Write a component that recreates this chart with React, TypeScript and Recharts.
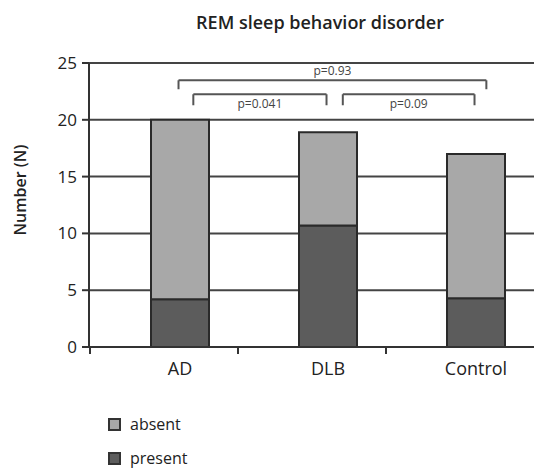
import React from 'react';
import { BarChart, Bar, XAxis, YAxis, CartesianGrid, ReferenceLine, Legend } from 'recharts';

const categories = ['AD', 'DLB', 'Control'];
const presentValues = [4.2, 10.7, 4.3];
const absentValues = [15.8, 8.2, 12.7];
const yTicks = [0, 5, 10, 15, 20, 25];
const seriesNames = ['absent', 'present'];
const seriesColors = ['#a8a8a8', '#5c5c5c'];

// significance brackets, x in band units (0..3), y in data units
const bracketLabels = ['p=0.93', 'p=0.041', 'p=0.09'];
const bracketFrom = [0.49, 0.59, 1.6];
const bracketTo = [2.57, 1.49, 2.49];
const bracketTop = [23.48, 22.25, 22.25];
const bracketLeg = [22.69, 21.28, 21.28];
const bracketLabelPos = ['top', 'bottom', 'bottom'];

const data = categories.map((c, i) => ({
  name: c,
  slot: i + 0.5,
  present: presentValues[i],
  absent: absentValues[i],
}));

const FONT = '"Open Sans", sans-serif';
const DARK = '#333';

const CategoryTick = (props: any) => {
  const { x, y, payload } = props;
  return (
    <g>
      <line x1={x - 90} x2={x - 90} y1={y} y2={y + 7} stroke={DARK} strokeWidth={2} />
      <text x={x} y={y + 28} textAnchor="middle" fontSize={18} fill="#222" fontFamily={FONT}>
        {payload.value}
      </text>
    </g>
  );
};

const LegendContent = () => (
  <div style={{ fontFamily: FONT, fontSize: 16, color: '#222', lineHeight: '16px' }}>
    {seriesNames.map((n, i) => (
      <div key={n} style={{ display: 'flex', alignItems: 'center', height: 16, marginBottom: i === 0 ? 18 : 0 }}>
        <span
          style={{
            display: 'inline-block',
            width: 13,
            height: 13,
            boxSizing: 'border-box',
            border: '2px solid #333',
            background: seriesColors[i],
            marginRight: 9,
          }}
        />
        <span>{n}</span>
      </div>
    ))}
  </div>
);

const YLabel = () => (
  <text
    transform="translate(20,190) rotate(-90)"
    textAnchor="middle"
    dominantBaseline="central"
    fontSize={16}
    fontWeight={600}
    fill="#222"
    fontFamily={FONT}
  >
    Number (N)
  </text>
);

export default function App() {
  return (
    <div
      style={{
        position: 'absolute',
        left: 0,
        top: 0,
        width: 534,
        height: 470,
        overflow: 'hidden',
        background: '#fff',
        fontFamily: FONT,
      }}
    >
      <div
        style={{
          position: 'absolute',
          left: 320,
          top: 13,
          transform: 'translateX(-50%)',
          whiteSpace: 'nowrap',
          fontSize: 18,
          lineHeight: '18px',
          fontWeight: 600,
          color: '#222',
          zIndex: 2,
        }}
      >
        REM sleep behavior disorder
      </div>
      <BarChart
        width={560}
        height={470}
        data={data}
        margin={{ top: 63, right: 10, left: 0, bottom: 93 }}
      >
        <CartesianGrid horizontal vertical={false} stroke="#444" strokeWidth={2} />
        <XAxis
          dataKey="name"
          padding={{ left: 17, right: 0 }}
          axisLine={{ stroke: DARK, strokeWidth: 2 }}
          tickLine={false}
          tickSize={0}
          tickMargin={0}
          height={30}
          tick={<CategoryTick />}
          interval={0}
        />
        <XAxis
          xAxisId="n"
          dataKey="slot"
          type="number"
          scale="linear"
          domain={[0, 3]}
          hide
          padding={{ left: 17, right: 0 }}
          allowDataOverflow
        />
        <YAxis
          width={89}
          domain={[0, 25]}
          ticks={yTicks}
          interval={0}
          tickSize={7}
          tickMargin={5}
          axisLine={{ stroke: DARK, strokeWidth: 2 }}
          tickLine={{ stroke: DARK, strokeWidth: 2 }}
          tick={{ fontSize: 17, fill: '#222', fontFamily: FONT }}
          label={{ content: <YLabel /> }}
        />
        <Legend
          layout="horizontal"
          verticalAlign="middle"
          align="center"
          content={<LegendContent />}
          wrapperStyle={{ position: 'absolute', left: 108, top: 416, width: 'auto' }}
        />
        <Bar dataKey="present" stackId="s" barSize={58} fill={seriesColors[1]} stroke="#2a2a2a" strokeWidth={2} isAnimationActive={false} />
        <Bar dataKey="absent" stackId="s" barSize={58} fill={seriesColors[0]} stroke="#2a2a2a" strokeWidth={2} isAnimationActive={false} />
        {bracketLabels.map((lab, i) => (
          <ReferenceLine
            key={'h' + i}
            xAxisId="n"
            ifOverflow="visible"
            segment={[
              { x: bracketFrom[i], y: bracketTop[i] },
              { x: bracketTo[i], y: bracketTop[i] },
            ]}
            stroke="#555"
            strokeWidth={2}
            label={{ value: lab, position: bracketLabelPos[i] as any, fontSize: 12, fill: '#444', fontFamily: FONT, offset: 5 }}
          />
        ))}
        {bracketLabels.map((lab, i) => (
          <ReferenceLine
            key={'l' + i}
            xAxisId="n"
            ifOverflow="visible"
            segment={[
              { x: bracketFrom[i], y: bracketTop[i] },
              { x: bracketFrom[i], y: bracketLeg[i] },
            ]}
            stroke="#555"
            strokeWidth={2}
          />
        ))}
        {bracketLabels.map((lab, i) => (
          <ReferenceLine
            key={'r' + i}
            xAxisId="n"
            ifOverflow="visible"
            segment={[
              { x: bracketTo[i], y: bracketTop[i] },
              { x: bracketTo[i], y: bracketLeg[i] },
            ]}
            stroke="#555"
            strokeWidth={2}
          />
        ))}
      </BarChart>
    </div>
  );
}
